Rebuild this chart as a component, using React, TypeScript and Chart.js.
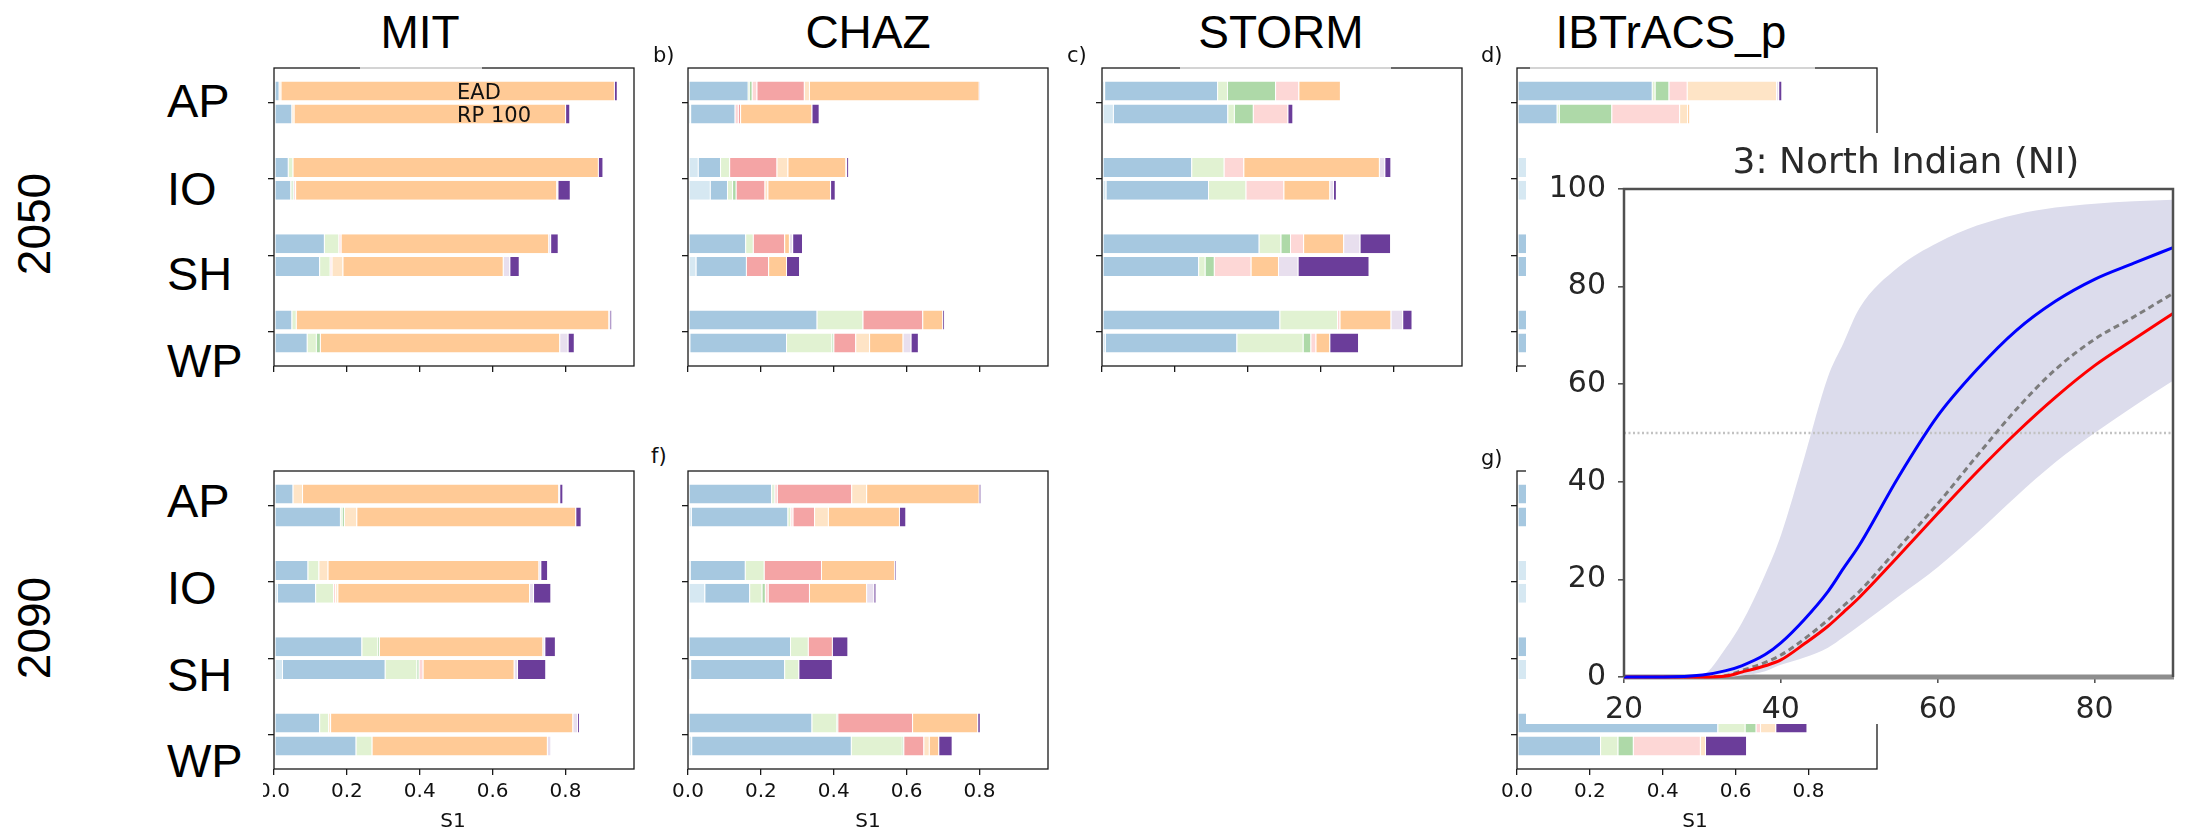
import React, { useEffect, useRef } from 'react';
import { Chart, registerables } from 'chart.js';

Chart.register(...registerables);
Chart.defaults.font.family = 'DejaVu Sans';

// ---------------- data ----------------
const REGIONS = ['AP', 'IO', 'SH', 'WP'];
const METRIC_LABELS = ['EAD', 'RP 100'];
// 10 contribution components (stack order, left to right)
const COMPONENT_COLORS = [
  '#d6e8f2', '#a6c8e0', '#e1f2d2', '#aed9a8', '#fdd7d6',
  '#f4a4a5', '#fee4c6', '#ffca96', '#e8dfee', '#6b3d9a',
];
const S1_TICKS = [0, 0.2, 0.4, 0.6, 0.8];
const S1_MAX = 0.988;

// each row: AP, IO, SH, WP ; each entry: widths of the 10 components
const MIT_2050_EAD = [
  [0, 0.013, 0, 0, 0, 0, 0.005, 0.915, 0, 0.008],
  [0, 0.038, 0.013, 0, 0, 0, 0, 0.838, 0, 0.013],
  [0, 0.137, 0.040, 0, 0.006, 0, 0, 0.570, 0.005, 0.021],
  [0, 0.048, 0.012, 0, 0, 0, 0, 0.858, 0.003, 0.005],
];
const MIT_2050_RP = [
  [0, 0.048, 0, 0, 0, 0, 0.006, 0.745, 0, 0.012],
  [0, 0.045, 0.004, 0.004, 0.005, 0, 0, 0.717, 0.003, 0.034],
  [0, 0.124, 0.029, 0, 0.005, 0, 0.030, 0.440, 0.018, 0.026],
  [0, 0.090, 0.025, 0.011, 0, 0, 0, 0.657, 0.023, 0.017],
];
const CHAZ_2050_EAD = [
  [0, 0.164, 0.003, 0.008, 0.013, 0.130, 0.014, 0.466, 0.003, 0],
  [0.027, 0.061, 0.025, 0, 0, 0.130, 0.030, 0.159, 0.002, 0.006],
  [0, 0.157, 0.021, 0, 0, 0.086, 0, 0.013, 0.009, 0.027],
  [0, 0.353, 0.126, 0, 0, 0.164, 0, 0.055, 0, 0.005],
];
const CHAZ_2050_RP = [
  [0.006, 0.122, 0, 0, 0.009, 0.006, 0, 0.196, 0, 0.020],
  [0.060, 0.047, 0.014, 0.010, 0, 0.079, 0.008, 0.172, 0, 0.013],
  [0.021, 0.138, 0, 0, 0, 0.061, 0, 0.049, 0, 0.036],
  [0.004, 0.265, 0.125, 0.005, 0, 0.060, 0.038, 0.092, 0.022, 0.020],
];
const STORM_2050_EAD = [
  [0.006, 0.310, 0.027, 0.132, 0.064, 0, 0, 0.114, 0, 0],
  [0, 0.245, 0.089, 0, 0.054, 0, 0, 0.372, 0.015, 0.017],
  [0, 0.430, 0.060, 0.026, 0.036, 0, 0, 0.110, 0.045, 0.084],
  [0, 0.487, 0.158, 0, 0.007, 0, 0, 0.140, 0.032, 0.026],
];
const STORM_2050_RP = [
  [0.030, 0.314, 0.018, 0.052, 0.095, 0, 0, 0, 0, 0.014],
  [0.010, 0.281, 0.103, 0, 0.104, 0, 0, 0.126, 0.010, 0.008],
  [0, 0.264, 0.018, 0.025, 0.101, 0, 0, 0.075, 0.054, 0.195],
  [0.008, 0.361, 0.182, 0.021, 0.014, 0, 0, 0.038, 0, 0.079],
];
const IBTRACS_2050_EAD = [
  [0, 0.370, 0.008, 0.038, 0.050, 0, 0.245, 0, 0.006, 0.009],
  [0.040, 0, 0, 0, 0, 0, 0, 0, 0, 0],
  [0, 0.040, 0, 0, 0, 0, 0, 0, 0, 0],
  [0, 0.040, 0, 0, 0, 0, 0, 0, 0, 0],
];
const IBTRACS_2050_RP = [
  [0, 0.109, 0.006, 0.144, 0.186, 0, 0.022, 0.006, 0, 0],
  [0.040, 0, 0, 0, 0, 0, 0, 0, 0, 0],
  [0, 0.040, 0, 0, 0, 0, 0, 0, 0, 0],
  [0, 0.040, 0, 0, 0, 0, 0, 0, 0, 0],
];
const MIT_2090_EAD = [
  [0, 0.051, 0, 0, 0, 0, 0.026, 0.703, 0.003, 0.009],
  [0, 0.092, 0.030, 0, 0, 0, 0.025, 0.579, 0.005, 0.019],
  [0, 0.240, 0.044, 0.004, 0, 0, 0, 0.449, 0.005, 0.029],
  [0, 0.124, 0.025, 0, 0, 0, 0.005, 0.665, 0.013, 0.005],
];
const MIT_2090_RP = [
  [0, 0.181, 0.005, 0.006, 0, 0, 0.034, 0.601, 0, 0.015],
  [0.008, 0.105, 0.049, 0, 0.006, 0, 0.006, 0.526, 0.011, 0.048],
  [0.022, 0.282, 0.087, 0.006, 0.011, 0, 0, 0.250, 0.009, 0.078],
  [0, 0.224, 0.044, 0, 0, 0, 0, 0.481, 0.010, 0],
];
const CHAZ_2090_EAD = [
  [0, 0.228, 0.005, 0.004, 0.007, 0.204, 0.041, 0.309, 0, 0.005],
  [0.005, 0.151, 0.052, 0, 0, 0.157, 0, 0.201, 0, 0.004],
  [0, 0.280, 0.049, 0, 0, 0.066, 0, 0, 0, 0.043],
  [0, 0.339, 0.068, 0.003, 0, 0.205, 0, 0.179, 0, 0.007],
];
const CHAZ_2090_RP = [
  [0.008, 0.265, 0.008, 0, 0.006, 0.059, 0.038, 0.195, 0, 0.018],
  [0.045, 0.123, 0.034, 0.009, 0.008, 0.113, 0, 0.157, 0.020, 0.006],
  [0.006, 0.258, 0.039, 0, 0, 0, 0, 0, 0, 0.092],
  [0.009, 0.438, 0.140, 0.004, 0, 0.055, 0.015, 0.026, 0, 0.037],
];
const IBTRACS_2090_EAD = [
  [0, 0.040, 0, 0, 0, 0, 0, 0, 0, 0],
  [0.040, 0, 0, 0, 0, 0, 0, 0, 0, 0],
  [0, 0.040, 0, 0, 0, 0, 0, 0, 0, 0],
  [0, 0.550, 0.075, 0.030, 0.012, 0, 0.042, 0, 0, 0.086],
];
const IBTRACS_2090_RP = [
  [0, 0.040, 0, 0, 0, 0, 0, 0, 0, 0],
  [0.040, 0, 0, 0, 0, 0, 0, 0, 0, 0],
  [0.040, 0, 0, 0, 0, 0, 0, 0, 0, 0],
  [0, 0.228, 0.048, 0.042, 0.184, 0, 0.014, 0, 0, 0.113],
];

// inset: 3: North Indian (NI)
const NI_X = [20, 25, 30, 33, 35, 38, 40, 43, 46, 48, 50, 55, 60, 65, 70, 75, 80, 85, 90];
const NI_BLUE = [0, 0, 0.4, 1.3, 2.3, 4.6, 7, 11.8, 17.5, 22.3, 27, 41, 53.5, 63, 71, 77, 81.5, 84.8, 88];
const NI_GREY = [0, 0, 0, 0.3, 1.3, 3, 4.5, 7.8, 11.7, 14.6, 17.5, 26.5, 35.5, 45.3, 54.8, 63, 69.2, 73.8, 78.6];
const NI_RED = [0, 0, 0, 0.2, 1, 2.3, 3.5, 6.8, 10.4, 13.3, 16.3, 24.8, 33.5, 42, 50, 57.3, 63.8, 69.2, 74.5];
const NI_BAND_HIGH = [0, 0, 0.5, 6, 11, 21, 29, 45, 61.5, 68.5, 75.5, 84, 89, 92.5, 94.8, 96.2, 97, 97.5, 97.8];
const NI_BAND_LOW = [0, 0, 0, 0, 0.3, 1.2, 2.5, 4, 6, 8.2, 10.5, 16.5, 22.5, 29.5, 37, 44, 50, 55.5, 60.7];
const NI_THRESHOLD = 50;
const NI_X_TICKS = [20, 40, 60, 80];
const NI_Y_TICKS = [0, 20, 40, 60, 80, 100];

// ---------------- layout ----------------
const FRAME_W = 360;
const FRAME_H = 298;
const Y_MIN = -0.4525;
const Y_MAX = 3.4525;

const framePlugin = {
  id: 'frame',
  afterDraw(chart: any) {
    const { ctx, chartArea: a } = chart;
    ctx.save();
    ctx.strokeStyle = '#1a1a1a';
    ctx.lineWidth = 1.3;
    ctx.strokeRect(a.left, a.top, a.right - a.left, a.bottom - a.top);
    ctx.restore();
  },
};

type PanelProps = {
  ead: number[][];
  rp: number[][];
  left: number;
  top: number;
  showLabels: boolean;
  padL: number;
};

function BarPanel({ ead, rp, left, top, showLabels, padL }: PanelProps) {
  const ref = useRef<HTMLCanvasElement | null>(null);
  const PT = 4;
  const PR = 6;
  const PB = showLabels ? 40 : 10;
  const cw = padL + FRAME_W + PR;
  const ch = PT + FRAME_H + PB;

  useEffect(() => {
    const datasets = COMPONENT_COLORS.map((color, k) => {
      const data: any[] = [];
      [ead, rp].forEach((rows, m) => {
        rows.forEach((w, r) => {
          if (!w[k]) return;
          let start = 0;
          for (let j = 0; j < k; j++) start += w[j];
          data.push({ x: [start, start + w[k]], y: r + (m === 0 ? -0.15 : 0.15) });
        });
      });
      return {
        label: 'component ' + k,
        data,
        backgroundColor: color,
        borderColor: 'rgba(255,255,255,0.85)',
        borderWidth: { left: 1, right: 0, top: 0, bottom: 0 },
        borderSkipped: false,
        grouped: false,
        barPercentage: 1,
        categoryPercentage: 1,
        maxBarThickness: 19,
        inflateAmount: 0,
      };
    });

    const gridOpts = {
      display: true,
      offset: false,
      drawOnChartArea: false,
      drawTicks: true,
      tickLength: 6,
      color: '#1a1a1a',
      lineWidth: 1.3,
    };

    const chart = new Chart(ref.current as HTMLCanvasElement, {
      type: 'bar',
      data: { datasets: datasets as any },
      plugins: [framePlugin],
      options: {
        indexAxis: 'y',
        responsive: false,
        animation: false,
        devicePixelRatio: 1,
        layout: { padding: { left: 0, top: PT, right: PR, bottom: 0 } },
        plugins: { legend: { display: false }, tooltip: { enabled: false }, title: { display: false } },
        scales: {
          x: {
            type: 'linear',
            position: 'bottom',
            min: 0,
            max: S1_MAX,
            bounds: 'data',
            offset: false,
            grace: 0,
            grid: gridOpts,
            border: { display: false },
            ticks: {
              display: showLabels,
              padding: 7,
              autoSkip: false,
              maxRotation: 0,
              stepSize: 0.2,
              color: '#111',
              font: { family: 'DejaVu Sans', size: 20, lineHeight: 1 },
              callback: (v: any) => Number(v).toFixed(1),
            },
            afterBuildTicks: (s: any) => {
              s.ticks = S1_TICKS.map((v) => ({ value: v }));
            },
            afterFit: (s: any) => {
              s.height = PB;
              s.paddingLeft = 0;
              s.paddingRight = 0;
            },
          },
          y: {
            type: 'linear',
            position: 'left',
            min: Y_MIN,
            max: Y_MAX,
            bounds: 'data',
            offset: false,
            grace: 0,
            reverse: true,
            grid: gridOpts,
            border: { display: false },
            ticks: { display: false, stepSize: 1 },
            afterDataLimits: (s: any) => {
              s.min = Y_MIN;
              s.max = Y_MAX;
            },
            afterBuildTicks: (s: any) => {
              s.min = Y_MIN;
              s.max = Y_MAX;
              s.ticks = REGIONS.map((_, i) => ({ value: i }));
            },
            afterFit: (s: any) => {
              s.width = padL;
              s.paddingTop = 0;
              s.paddingBottom = 0;
            },
          },
        },
      } as any,
    });
    return () => chart.destroy();
  }, []);

  return (
    <canvas
      ref={ref}
      width={cw}
      height={ch}
      style={{ position: 'absolute', left: left - padL, top: top - PT, width: cw, height: ch }}
    />
  );
}

const INSET = { left: 1526, top: 133, width: 666, height: 591, aL: 98, aT: 56, aR: 647, aB: 544 };

function InsetChart() {
  const ref = useRef<HTMLCanvasElement | null>(null);
  useEffect(() => {
    const pts = (ys: number[]) => NI_X.map((x, i) => ({ x, y: ys[i] }));
    const common = { pointRadius: 0, fill: false, cubicInterpolationMode: 'monotone', clip: 6 };
    const insetFrame = {
      id: 'insetFrame',
      beforeDatasetsDraw(chart: any) {
        const { ctx, chartArea: a } = chart;
        ctx.save();
        ctx.fillStyle = '#8e8e8e';
        ctx.fillRect(a.left - 1, a.bottom - 2.5, a.right - a.left + 2, 5);
        ctx.restore();
      },
      afterDatasetsDraw(chart: any) {
        const { ctx, chartArea: a } = chart;
        ctx.save();
        ctx.strokeStyle = '#505050';
        ctx.lineWidth = 2.5;
        ctx.beginPath();
        ctx.moveTo(a.left, a.bottom);
        ctx.lineTo(a.left, a.top);
        ctx.lineTo(a.right, a.top);
        ctx.lineTo(a.right, a.bottom);
        ctx.stroke();
        ctx.restore();
      },
    };
    const grid = { display: true, offset: false, drawOnChartArea: false, drawTicks: true, tickLength: 6, color: '#555', lineWidth: 1.6 };
    const tickFont = { family: 'DejaVu Sans', size: 30, lineHeight: 1 };
    const chart = new Chart(ref.current as HTMLCanvasElement, {
      type: 'line',
      data: {
        datasets: [
          { ...common, label: 'blue', data: pts(NI_BLUE), borderColor: '#0000ff', borderWidth: 3 },
          { ...common, label: 'red', data: pts(NI_RED), borderColor: '#ff0000', borderWidth: 3 },
          { ...common, label: 'grey', data: pts(NI_GREY), borderColor: '#7c7c7c', borderWidth: 3, borderDash: [6, 4] },
          {
            label: 'threshold',
            pointRadius: 0,
            fill: false,
            data: [
              { x: NI_X[0], y: NI_THRESHOLD },
              { x: NI_X[NI_X.length - 1], y: NI_THRESHOLD },
            ],
            borderColor: '#c2c2c2',
            borderWidth: 2.5,
            borderDash: [2, 2.5],
          },
          {
            label: 'band high',
            pointRadius: 0,
            data: pts(NI_BAND_HIGH),
            borderWidth: 0,
            borderColor: 'rgba(0,0,0,0)',
            backgroundColor: '#dcdcec',
            fill: '+1',
            cubicInterpolationMode: 'monotone',
          },
          {
            label: 'band low',
            pointRadius: 0,
            data: pts(NI_BAND_LOW),
            borderWidth: 0,
            borderColor: 'rgba(0,0,0,0)',
            fill: false,
            cubicInterpolationMode: 'monotone',
          },
        ] as any,
      },
      plugins: [insetFrame],
      options: {
        responsive: false,
        animation: false,
        devicePixelRatio: 1,
        layout: { padding: { left: 0, top: INSET.aT, right: INSET.width - INSET.aR, bottom: 0 } },
        plugins: { legend: { display: false }, tooltip: { enabled: false } },
        scales: {
          x: {
            type: 'linear',
            min: 20,
            max: 90,
            bounds: 'data',
            grid,
            border: { display: false },
            ticks: { font: tickFont, color: '#262626', padding: 12, autoSkip: false, maxRotation: 0 },
            afterBuildTicks: (s: any) => {
              s.min = 20;
              s.max = 90;
              s.ticks = NI_X_TICKS.map((v) => ({ value: v }));
            },
            afterFit: (s: any) => {
              s.height = INSET.height - INSET.aB;
              s.paddingLeft = 0;
              s.paddingRight = 0;
            },
          },
          y: {
            type: 'linear',
            min: 0,
            max: 100,
            bounds: 'data',
            grid,
            border: { display: false },
            ticks: { font: tickFont, color: '#262626', padding: 12, autoSkip: false },
            afterBuildTicks: (s: any) => {
              s.min = 0;
              s.max = 100;
              s.ticks = NI_Y_TICKS.map((v) => ({ value: v }));
            },
            afterFit: (s: any) => {
              s.width = INSET.aL;
              s.paddingTop = 0;
              s.paddingBottom = 0;
            },
          },
        },
      } as any,
    });
    return () => chart.destroy();
  }, []);

  return (
    <div
      style={{
        position: 'absolute',
        left: INSET.left,
        top: INSET.top,
        width: INSET.width,
        height: INSET.height,
        background: '#fff',
      }}
    >
      <canvas
        ref={ref}
        width={INSET.width}
        height={INSET.height}
        style={{ position: 'absolute', left: 0, top: 0, width: INSET.width, height: INSET.height }}
      />
      <div
        style={{
          position: 'absolute',
          left: 380 - 300,
          width: 600,
          top: 10,
          textAlign: 'center',
          fontFamily: 'DejaVu Sans',
          fontSize: 36,
          lineHeight: '36px',
          color: '#2a2a2a',
          whiteSpace: 'nowrap',
        }}
      >
        3: North Indian (NI)
      </div>
    </div>
  );
}

const PANELS: PanelProps[] = [
  { ead: MIT_2050_EAD, rp: MIT_2050_RP, left: 274, top: 68, showLabels: false, padL: 20 },
  { ead: CHAZ_2050_EAD, rp: CHAZ_2050_RP, left: 688, top: 68, showLabels: false, padL: 20 },
  { ead: STORM_2050_EAD, rp: STORM_2050_RP, left: 1102, top: 68, showLabels: false, padL: 20 },
  { ead: IBTRACS_2050_EAD, rp: IBTRACS_2050_RP, left: 1517, top: 68, showLabels: false, padL: 20 },
  { ead: MIT_2090_EAD, rp: MIT_2090_RP, left: 274, top: 471, showLabels: true, padL: 11 },
  { ead: CHAZ_2090_EAD, rp: CHAZ_2090_RP, left: 688, top: 471, showLabels: true, padL: 20 },
  { ead: IBTRACS_2090_EAD, rp: IBTRACS_2090_RP, left: 1517, top: 471, showLabels: true, padL: 20 },
];

const TITLES = [
  { text: 'MIT', cx: 420 },
  { text: 'CHAZ', cx: 868 },
  { text: 'STORM', cx: 1281 },
  { text: 'IBTrACS_p', cx: 1671 },
];
const ROW_CENTERS_2050 = [100, 188, 273, 360];
const ROW_CENTERS_2090 = [500, 587, 674, 760];
const PANEL_LETTERS = [
  { t: 'b)', x: 653, y: 45 },
  { t: 'c)', x: 1067, y: 45 },
  { t: 'd)', x: 1481, y: 45 },
  { t: 'f)', x: 651, y: 446 },
  { t: 'g)', x: 1481, y: 448 },
];
const S1_CENTERS = [453, 868, 1695];
const SPINE_GAPS = [
  { x: 360, w: 122 },
  { x: 1180, w: 211 },
  { x: 1530, w: 285 },
];

export default function App() {
  useEffect(() => {
    document.body.style.margin = '0';
    document.body.style.overflow = 'hidden';
  }, []);

  const big: React.CSSProperties = {
    position: 'absolute',
    fontFamily: 'Liberation Sans, Arial, sans-serif',
    color: '#000',
    whiteSpace: 'nowrap',
  };
  const small: React.CSSProperties = {
    position: 'absolute',
    fontFamily: 'DejaVu Sans, sans-serif',
    fontSize: 21,
    lineHeight: '21px',
    color: '#111',
    whiteSpace: 'nowrap',
  };

  return (
    <div
      style={{
        position: 'absolute',
        left: 0,
        top: 0,
        width: 2192,
        height: 829,
        overflow: 'hidden',
        background: '#fff',
      }}
    >
      {PANELS.map((p, i) => (
        <BarPanel key={i} {...p} />
      ))}

      {SPINE_GAPS.map((g, i) => (
        <div
          key={'gap' + i}
          style={{
            position: 'absolute',
            left: g.x,
            top: 66,
            width: g.w,
            height: 4,
            background: 'linear-gradient(#fff 0 35%, #d4d4d4 35% 65%, #fff 65% 100%)',
          }}
        />
      ))}

      {TITLES.map((t) => (
        <div
          key={t.text}
          style={{ ...big, left: t.cx - 200, width: 400, textAlign: 'center', top: 8.5, fontSize: 46, lineHeight: '46px' }}
        >
          {t.text}
        </div>
      ))}

      {REGIONS.map((r, i) => (
        <div key={'a' + r} style={{ ...big, left: 167, top: ROW_CENTERS_2050[i] - 23, fontSize: 47, lineHeight: '47px' }}>
          {r}
        </div>
      ))}
      {REGIONS.map((r, i) => (
        <div key={'b' + r} style={{ ...big, left: 167, top: ROW_CENTERS_2090[i] - 23, fontSize: 47, lineHeight: '47px' }}>
          {r}
        </div>
      ))}

      {[
        { t: '2050', cy: 223.5 },
        { t: '2090', cy: 627.5 },
      ].map((y) => (
        <div
          key={y.t}
          style={{
            ...big,
            left: 33.5 - 100,
            width: 200,
            top: y.cy - 23,
            height: 46,
            fontSize: 46,
            lineHeight: '46px',
            textAlign: 'center',
            transform: 'rotate(-90deg)',
            transformOrigin: '50% 50%',
          }}
        >
          {y.t}
        </div>
      ))}

      {PANEL_LETTERS.map((l) => (
        <div key={l.t} style={{ ...small, left: l.x, top: l.y }}>
          {l.t}
        </div>
      ))}

      <div style={{ ...small, left: 457, top: 81.5 }}>{METRIC_LABELS[0]}</div>
      <div style={{ ...small, left: 457, top: 104.5 }}>{METRIC_LABELS[1]}</div>

      {S1_CENTERS.map((cx, i) => (
        <div
          key={'s1' + i}
          style={{ ...small, fontSize: 20, lineHeight: '20px', left: cx - 50, width: 100, textAlign: 'center', top: 809.5 }}
        >
          S1
        </div>
      ))}

      <InsetChart />
    </div>
  );
}
